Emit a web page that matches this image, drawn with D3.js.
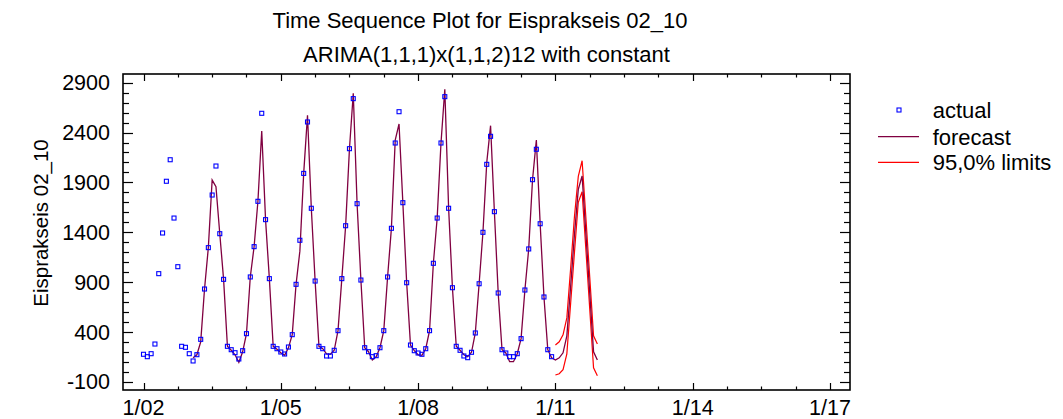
<!DOCTYPE html>
<html>
<head>
<meta charset="utf-8">
<script src="https://cdn.jsdelivr.net/npm/d3@7/dist/d3.min.js"></script>
<style>
  html, body { margin: 0; padding: 0; background: #fff; }
  svg { display: block; }
  text { font-family: "Liberation Sans", Arial, sans-serif; fill: #000; }
</style>
</head>
<body>
<svg id="chart" width="1063" height="419"></svg>
<script>
// ---- Data (month index 0 = Jan 2002) ----
const titleText = "Time Sequence Plot for Eisprakseis 02_10";
const subtitleText = "ARIMA(1,1,1)x(1,1,2)12 with constant";
const yAxisTitle = "Eisprakseis 02_10";
const legendLabels = ["actual", "forecast", "95,0% limits"];

const actual = [
  175, 151, 181, 278, 984, 1392, 1911, 2127, 1542, 1054, 255, 245,
  181, 108, 171, 325, 830, 1245, 1773, 2064, 1385, 927, 255, 221,
  191, 128, 211, 382, 951, 1255, 1710, 2593, 1526, 934, 255, 231,
  198, 178, 248, 372, 877, 1319, 1990, 2506, 1640, 910, 255, 231,
  158, 158, 215, 412, 934, 1465, 2238, 2740, 1686, 920, 241, 201,
  151, 161, 241, 412, 951, 1439, 2295, 2609, 1696, 893, 268, 211,
  188, 175, 231, 412, 1088, 1542, 2295, 2760, 1640, 843, 255, 215,
  158, 141, 195, 389, 883, 1399, 2081, 2362, 1606, 790, 221, 188,
  151, 151, 181, 332, 820, 1232, 1927, 2232, 1485, 750, 221, 151
];

const forecastStart = 13;
const forecast = [
  140, 170, 300, 830, 1245, 1923, 1857, 1385, 927, 255, 215,
  170, 95, 200, 382, 951, 1255, 1710, 2415, 1526, 934, 255, 225,
  190, 165, 240, 372, 877, 1210, 1990, 2573, 1640, 910, 255, 231,
  180, 175, 215, 412, 934, 1465, 2238, 2794, 1686, 920, 241, 201,
  118, 150, 241, 412, 951, 1439, 2324, 2486, 1696, 893, 268, 211,
  170, 165, 231, 412, 1088, 1542, 2295, 2834, 1640, 843, 255, 215,
  170, 150, 195, 389, 883, 1399, 2100, 2469, 1606, 790, 221, 188,
  101, 101, 181, 332, 820, 1232, 1927, 2325, 1485, 750, 221, 140,
  118, 140, 190, 360, 860, 1380, 1830, 1964, 1380, 790, 200, 118
];

const limitsStart = 108;
const upperLimit = [268, 300, 370, 540, 1040, 1560, 1960, 2117, 1540, 950, 360, 278];
const lowerLimit = [-33, -20, 20, 180, 690, 1200, 1700, 1806, 1220, 630, 40, -40];

const yTickValues = [-100, 400, 900, 1400, 1900, 2400, 2900];
const xTickLabels = ["1/02", "1/05", "1/08", "1/11", "1/14", "1/17"];
const xTickMonths = [0, 36, 72, 108, 144, 180];

// ---- Layout ----
const svg = d3.select("#chart");
const pL = 123, pR = 850, pT = 74, pB = 390;

const x = d3.scaleLinear().domain([-5.375, 185.24]).range([pL, pR]);
const y = d3.scaleLinear().domain([-183.3, 2987.3]).range([pB, pT]);

// Titles
svg.append("text").attr("x", 480).attr("y", 28).attr("text-anchor", "middle")
  .style("font-size", "22px").text(titleText);
svg.append("text").attr("x", 486.5).attr("y", 62).attr("text-anchor", "middle")
  .style("font-size", "22px").text(subtitleText);

// Y axis title
svg.append("text").attr("transform", "translate(48,223) rotate(-90)")
  .attr("text-anchor", "middle").style("font-size", "20.5px").text(yAxisTitle);

// Ticks
const g = svg.append("g").attr("stroke", "#000").attr("stroke-width", 1.2);
const yMinor = d3.range(-100, 2901, 100);
yMinor.forEach(v => {
  const major = yTickValues.includes(v);
  const len = major ? 10 : 6;
  const yy = Math.round(y(v)) + 0.5;
  g.append("line").attr("x1", pL).attr("x2", pL + len).attr("y1", yy).attr("y2", yy);
  g.append("line").attr("x1", pR).attr("x2", pR - len).attr("y1", yy).attr("y2", yy);
});
const xMinor = d3.range(0, 181, 9);
xMinor.forEach(m => {
  const major = xTickMonths.includes(m);
  const len = major ? 7 : 3.5;
  const xx = Math.round(x(m)) + 0.5;
  g.append("line").attr("x1", xx).attr("x2", xx).attr("y1", pB).attr("y2", pB - len);
  g.append("line").attr("x1", xx).attr("x2", xx).attr("y1", pT).attr("y2", pT + len);
});

// Tick labels
yTickValues.forEach(v => {
  svg.append("text").attr("x", 110).attr("y", y(v)).attr("dy", "0.36em")
    .attr("text-anchor", "end").style("font-size", "21.5px").text(v);
});
xTickMonths.forEach((m, i) => {
  svg.append("text").attr("x", x(m)).attr("y", 415)
    .attr("text-anchor", "middle").style("font-size", "21.5px").text(xTickLabels[i]);
});

// Frame
svg.append("rect").attr("x", pL).attr("y", pT).attr("width", pR - pL).attr("height", pB - pT)
  .attr("fill", "none").attr("stroke", "#000").attr("stroke-width", 1.6);

// Lines
const line = d3.line().x(d => x(d[0])).y(d => y(d[1]));
const fcData = forecast.map((v, i) => [forecastStart + i, v]);
const upData = upperLimit.map((v, i) => [limitsStart + i, v]);
const loData = lowerLimit.map((v, i) => [limitsStart + i, v]);

svg.append("path").datum(upData).attr("d", line).attr("fill", "none")
  .attr("stroke", "#ff0000").attr("stroke-width", 1.2);
svg.append("path").datum(loData).attr("d", line).attr("fill", "none")
  .attr("stroke", "#ff0000").attr("stroke-width", 1.2);
svg.append("path").datum(fcData).attr("d", line).attr("fill", "none")
  .attr("stroke", "#800040").attr("stroke-width", 1.3);

// Points
svg.append("g").selectAll("rect").data(actual).join("rect")
  .attr("x", (d, i) => x(i) - 2).attr("y", d => y(d) - 2)
  .attr("width", 4).attr("height", 4)
  .attr("fill", "none").attr("stroke", "#0000ff").attr("stroke-width", 1.1);

// Legend
svg.append("rect").attr("x", 897).attr("y", 108).attr("width", 4).attr("height", 4)
  .attr("fill", "none").attr("stroke", "#0000ff").attr("stroke-width", 1.1);
svg.append("line").attr("x1", 878).attr("x2", 919).attr("y1", 136.7).attr("y2", 136.7)
  .attr("stroke", "#800040").attr("stroke-width", 1.3);
svg.append("line").attr("x1", 878).attr("x2", 919).attr("y1", 162.3).attr("y2", 162.3)
  .attr("stroke", "#ff0000").attr("stroke-width", 1.2);
[110, 136.7, 162.3].forEach((yy, i) => {
  svg.append("text").attr("x", 932.7).attr("y", yy).attr("dy", "0.36em")
    .style("font-size", "22px").text(legendLabels[i]);
});
</script>
</body>
</html>
